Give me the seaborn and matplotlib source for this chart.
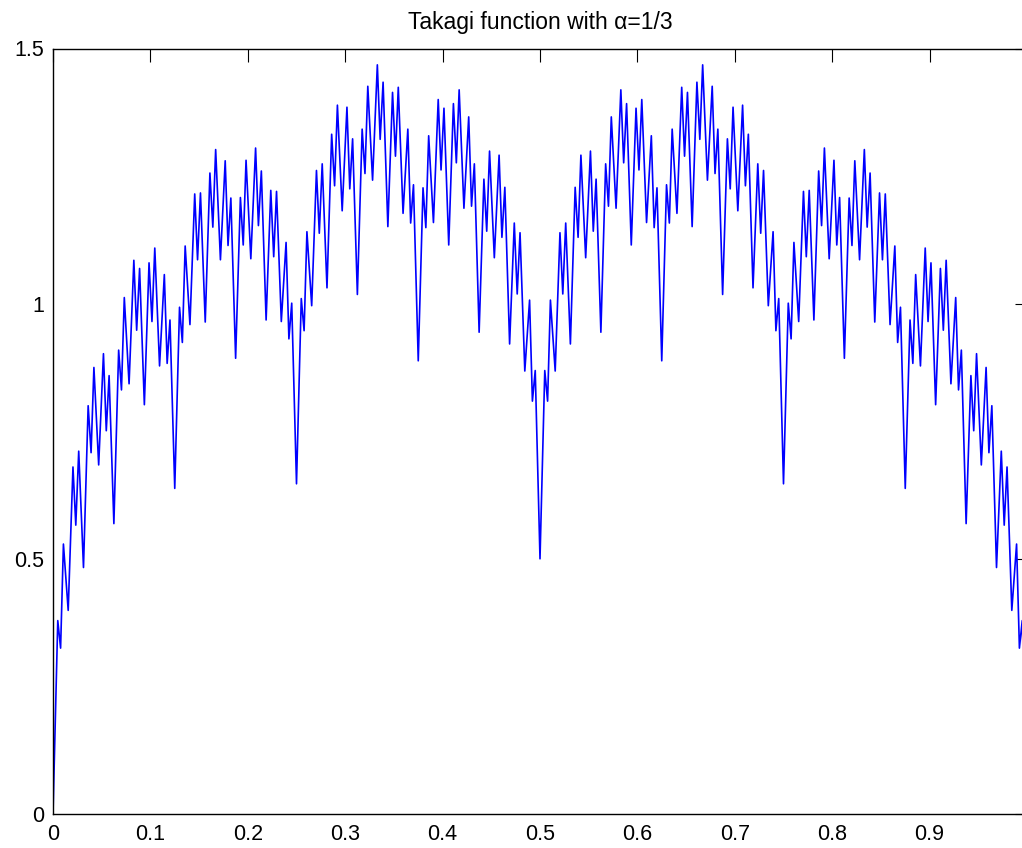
import matplotlib
matplotlib.use("Agg")
import matplotlib.pyplot as plt
import seaborn as sns

# sample positions along [0, 1]
x = [
    0, .0049, .0078, .0107, .0156, .0205, .0234, .0264, .0313, .0361, .0391, .0420,
    .0469, .0518, .0547, .0576, .0625, .0674, .0703, .0732, .0781, .0830, .0859, .0889,
    .0938, .0986, .1016, .1045, .1094, .1143, .1172, .1201, .1250, .1299, .1328, .1357,
    .1406, .1455, .1484, .1514, .1563, .1611, .1641, .1670, .1719, .1768, .1797, .1826,
    .1875, .1924, .1953, .1982, .2031, .2080, .2109, .2139, .2188, .2236, .2266, .2295,
    .2344, .2393, .2422, .2451, .2500, .2549, .2578, .2607, .2656, .2705, .2734, .2764,
    .2813, .2861, .2891, .2920, .2969, .3018, .3047, .3076, .3125, .3174, .3203, .3232,
    .3281, .3330, .3359, .3389, .3438, .3486, .3516, .3545, .3594, .3643, .3672, .3701,
    .3750, .3799, .3828, .3857, .3906, .3955, .3984, .4014, .4063, .4111, .4141, .4170,
    .4219, .4268, .4297, .4326, .4375, .4424, .4453, .4482, .4531, .4580, .4609, .4639,
    .4688, .4736, .4766, .4795, .4844, .4893, .4922, .4951,
    .5,
    .5049, .5078, .5107, .5156, .5205, .5234, .5264, .5312, .5361, .5391, .5420, .5469,
    .5518, .5547, .5576, .5625, .5674, .5703, .5732, .5781, .5830, .5859, .5889, .5937,
    .5986, .6016, .6045, .6094, .6143, .6172, .6201, .6250, .6299, .6328, .6357, .6406,
    .6455, .6484, .6514, .6562, .6611, .6641, .6670, .6719, .6768, .6797, .6826, .6875,
    .6924, .6953, .6982, .7031, .7080, .7109, .7139, .7187, .7236, .7266, .7295, .7344,
    .7393, .7422, .7451, .7500, .7549, .7578, .7607, .7656, .7705, .7734, .7764, .7812,
    .7861, .7891, .7920, .7969, .8018, .8047, .8076, .8125, .8174, .8203, .8232, .8281,
    .8330, .8359, .8389, .8437, .8486, .8516, .8545, .8594, .8643, .8672, .8701, .8750,
    .8799, .8828, .8857, .8906, .8955, .8984, .9014, .9062, .9111, .9141, .9170, .9219,
    .9268, .9297, .9326, .9375, .9424, .9453, .9482, .9531, .9580, .9609, .9639, .9687,
    .9736, .9766, .9795, .9844, .9893, .9922, .9951, 1,
]

# curve values
y = [
    0, .379, .325, .529, .399, .680, .566, .711, .483, .800, .708, .875,
    .684, .902, .751, .859, .569, .909, .831, 1.012, .843, 1.085, .948, 1.069,
    .802, 1.080, .965, 1.109, .878, 1.057, .883, .968, .638, .993, .924, 1.113,
    .959, 1.215, 1.086, 1.217, .964, 1.256, 1.150, 1.302, 1.086, 1.280, 1.114, 1.207,
    .893, 1.208, 1.115, 1.281, 1.088, 1.305, 1.153, 1.260, .968, 1.222, 1.092, 1.220,
    .965, 1.120, .931, 1.001, .647, 1.010, .947, 1.141, .996, 1.261, 1.138, 1.274,
    1.031, 1.332, 1.231, 1.389, 1.182, 1.385, 1.225, 1.323, 1.018, 1.342, 1.255, 1.426,
    1.242, 1.468, 1.322, 1.434, 1.151, 1.414, 1.289, 1.424, 1.177, 1.342, 1.158, 1.233,
    .888, 1.227, 1.149, 1.329, 1.159, 1.400, 1.262, 1.383, 1.115, 1.392, 1.276, 1.419,
    1.187, 1.366, 1.191, 1.274, .944, 1.244, 1.142, 1.299, 1.090, 1.291, 1.130, 1.228,
    .921, 1.158, 1.019, 1.139, .868, 1.007, .809, .869,
    .5,
    .869, .809, 1.007, .868, 1.139, 1.019, 1.158, .921, 1.228, 1.130, 1.291, 1.090,
    1.299, 1.142, 1.244, .944, 1.274, 1.191, 1.366, 1.187, 1.419, 1.276, 1.392, 1.115,
    1.383, 1.262, 1.400, 1.159, 1.329, 1.149, 1.227, .888, 1.233, 1.158, 1.342, 1.177,
    1.424, 1.289, 1.414, 1.151, 1.434, 1.322, 1.468, 1.242, 1.426, 1.255, 1.342, 1.018,
    1.323, 1.225, 1.385, 1.182, 1.389, 1.231, 1.332, 1.031, 1.274, 1.138, 1.261, .996,
    1.141, .947, 1.010, .647, 1.001, .931, 1.120, .965, 1.220, 1.092, 1.222, .968,
    1.260, 1.153, 1.305, 1.088, 1.281, 1.115, 1.208, .893, 1.207, 1.114, 1.280, 1.086,
    1.302, 1.150, 1.256, .964, 1.217, 1.086, 1.215, .959, 1.113, .924, .993, .638,
    .968, .883, 1.057, .878, 1.109, .965, 1.080, .802, 1.069, .948, 1.085, .843,
    1.012, .831, .909, .569, .859, .751, .902, .684, .875, .708, .800, .483,
    .711, .566, .680, .399, .529, .325, .379, 0,
]

x_ticks = [0, 0.1, 0.2, 0.3, 0.4, 0.5, 0.6, 0.7, 0.8, 0.9, 1]
x_ticklabels = ["0", "0.1", "0.2", "0.3", "0.4", "0.5", "0.6", "0.7", "0.8", "0.9", "1"]
y_ticks = [0, 0.5, 1, 1.5]
y_ticklabels = ["0", "0.5", "1", "1.5"]

sns.set_style("white")
plt.rcParams["font.family"] = ["Liberation Sans", "DejaVu Sans"]
plt.rcParams["font.size"] = 15.5
plt.rcParams["text.color"] = "black"

fig = plt.figure(figsize=(10.22, 8.48), dpi=100)
ax = fig.add_axes([53 / 1022, 34 / 848, 974 / 1022, 765.5 / 848])

sns.lineplot(x=x, y=y, ax=ax, color="#0000ff", linewidth=1.2,
             estimator=None, sort=False)

ax.set_xlim(0, 1)
ax.set_ylim(0, 1.5)
ax.set_xticks(x_ticks)
ax.set_xticklabels(x_ticklabels)
ax.set_yticks(y_ticks)
ax.set_yticklabels(y_ticklabels)
ax.tick_params(direction="in", length=9, width=0.8, top=True, right=True,
               color="black", labelcolor="black")
ax.tick_params(axis="x", pad=7.5)
ax.tick_params(axis="y", pad=6.5)
for side in ax.spines.values():
    side.set_color("black")
    side.set_linewidth(1.0)

ax.set_xlabel("")
ax.set_ylabel("")
ax.set_title("Takagi function with α=1/3", pad=14, fontsize=16.5, color="black")

fig.savefig("out.png", dpi=100)
